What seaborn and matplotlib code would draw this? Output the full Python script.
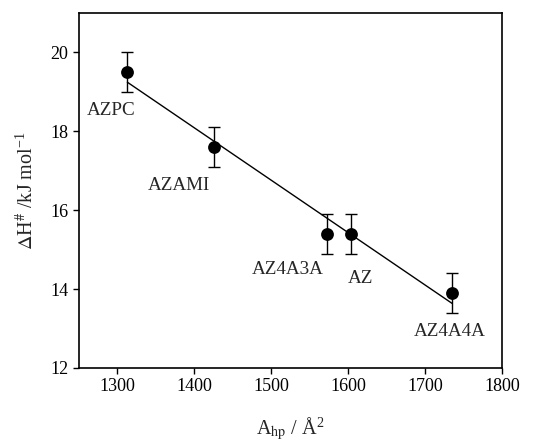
import numpy as np
import pandas as pd
import matplotlib
matplotlib.use("Agg")
import matplotlib.pyplot as plt
import seaborn as sns

names = ["AZPC", "AZAMI", "AZ4A3A", "AZ", "AZ4A4A"]
area = [1313, 1425, 1573, 1604, 1735]
dH = [19.5, 17.6, 15.4, 15.4, 13.9]
err = [0.5, 0.5, 0.5, 0.5, 0.5]
label_x = [1292, 1380, 1522, 1616, 1732]
label_y = [18.53, 16.62, 14.49, 14.26, 12.93]
xticks = [1300, 1400, 1500, 1600, 1700, 1800]
yticks = [12, 14, 16, 18, 20]

df = pd.DataFrame({"area": area, "dH": dH, "err": err, "name": names})

sns.set_style("ticks")
plt.rcParams["font.family"] = ["Liberation Serif", "DejaVu Serif"]
plt.rcParams["mathtext.fontset"] = "stix"

fig = plt.figure(figsize=(5.33, 4.47), dpi=100)
ax = fig.add_axes([0.148, 0.177, 0.794, 0.794])

sns.regplot(data=df, x="area", y="dH", scatter=False, ci=None, ax=ax,
            line_kws={"color": "black", "linewidth": 1.0})
ax.errorbar(df["area"], df["dH"], yerr=df["err"], fmt="none", ecolor="black",
            elinewidth=1.0, capsize=4, capthick=1.0, zorder=3)
sns.scatterplot(data=df, x="area", y="dH", ax=ax, color="black", s=85,
                edgecolor="black", linewidth=0, zorder=4)

for n, lx, ly in zip(names, label_x, label_y):
    ax.text(lx, ly, n, ha="center", va="center", fontsize=13.8)

ax.set_xlim(1250, 1800)
ax.set_ylim(12, 21)
ax.set_xticks(xticks)
ax.set_yticks(yticks)
ax.tick_params(axis="both", direction="out", length=4, width=1, labelsize=13,
               color="black", labelcolor="black")
for s in ax.spines.values():
    s.set_visible(True)
    s.set_color("black")
    s.set_linewidth(1.2)

ax.set_xlabel(r"A$_{\mathrm{hp}}$ / Å$^{\mathregular{2}}$", fontsize=14.5, labelpad=15)
ax.set_ylabel(r"$\Delta$H$^{\#}$ /kJ mol$^{\mathregular{-1}}$", fontsize=14.5, labelpad=9)

fig.savefig("out.png", dpi=100)
